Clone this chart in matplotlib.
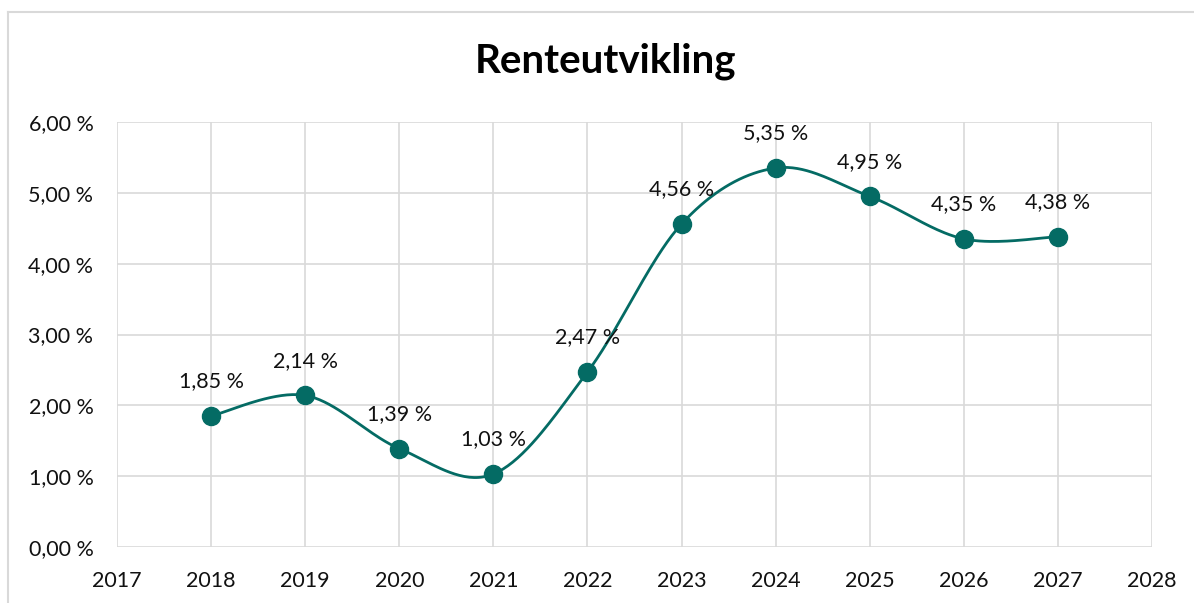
import numpy as np
import matplotlib
matplotlib.use("Agg")
import matplotlib.pyplot as plt
from matplotlib.lines import Line2D

# data
years = [2018, 2019, 2020, 2021, 2022, 2023, 2024, 2025, 2026, 2027]
rates = [1.85, 2.14, 1.39, 1.03, 2.47, 4.56, 5.35, 4.95, 4.35, 4.38]
x_ticks = list(range(2017, 2029))
y_ticks = [0, 1, 2, 3, 4, 5, 6]
title = "Renteutvikling"

TEAL = "#046B64"
GRID = "#D9D9D9"

plt.rcParams["font.family"] = ["Lato", "DejaVu Sans"]


def fmt_pct(v):
    return f"{v:.2f}".replace(".", ",") + " %"


def smooth_line(xs, ys, n=40):
    # Excel-style smoothed line: cubic bezier with catmull-rom control points
    xs = np.asarray(xs, float)
    ys = np.asarray(ys, float)
    px = np.concatenate([[xs[0]], xs, [xs[-1]]])
    py = np.concatenate([[ys[0]], ys, [ys[-1]]])
    out_x, out_y = [], []
    t = np.linspace(0, 1, n)
    for i in range(1, len(px) - 2):
        p0 = np.array([px[i], py[i]])
        p3 = np.array([px[i + 1], py[i + 1]])
        c1 = p0 + (p3 - np.array([px[i - 1], py[i - 1]])) / 6
        c2 = p3 - (np.array([px[i + 2], py[i + 2]]) - p0) / 6
        seg = ((1 - t) ** 3)[:, None] * p0 + (3 * (1 - t) ** 2 * t)[:, None] * c1 \
            + (3 * (1 - t) * t ** 2)[:, None] * c2 + (t ** 3)[:, None] * p3
        out_x.extend(seg[:, 0])
        out_y.extend(seg[:, 1])
    return out_x, out_y


fig = plt.figure(figsize=(11.94, 6.03), dpi=100)
ax = fig.add_axes([117 / 1194, 1 - 547 / 603, (1152 - 117) / 1194, (547 - 122) / 603])

sx, sy = smooth_line(years, rates)
ax.plot(sx, sy, color=TEAL, lw=2.0, zorder=3, solid_capstyle="round")
ax.plot(years, rates, "o", color=TEAL, ms=13, zorder=4)

for x, v in zip(years, rates):
    ax.annotate(fmt_pct(v), (x, v), xytext=(0, 25), textcoords="offset points",
                ha="center", va="center", fontsize=15.5, color="#111111")

ax.set_xlim(2017, 2028)
ax.set_ylim(0, 6)
ax.set_xticks(x_ticks)
ax.set_yticks(y_ticks)
ax.set_yticklabels([f"{v},00 %" for v in y_ticks])
ax.grid(True, color=GRID, lw=1.2)
ax.set_axisbelow(True)
for s in ax.spines.values():
    s.set_visible(False)
ax.tick_params(length=0, labelsize=15.5, labelcolor="#111111")
ax.tick_params(axis="x", pad=17)
ax.tick_params(axis="y", pad=17)

fig.text(606 / 1194, 1 - 61 / 603, title, ha="center", va="center",
         fontsize=29, fontweight="bold", color="black")

# chart area border (cropped at right and bottom)
fig.add_artist(Line2D([8 / 1194, 1], [1 - 12 / 603] * 2, transform=fig.transFigure,
                      color=GRID, lw=1.5))
fig.add_artist(Line2D([8 / 1194] * 2, [0, 1 - 12 / 603], transform=fig.transFigure,
                      color=GRID, lw=1.5))

fig.savefig("out.png", dpi=100)
